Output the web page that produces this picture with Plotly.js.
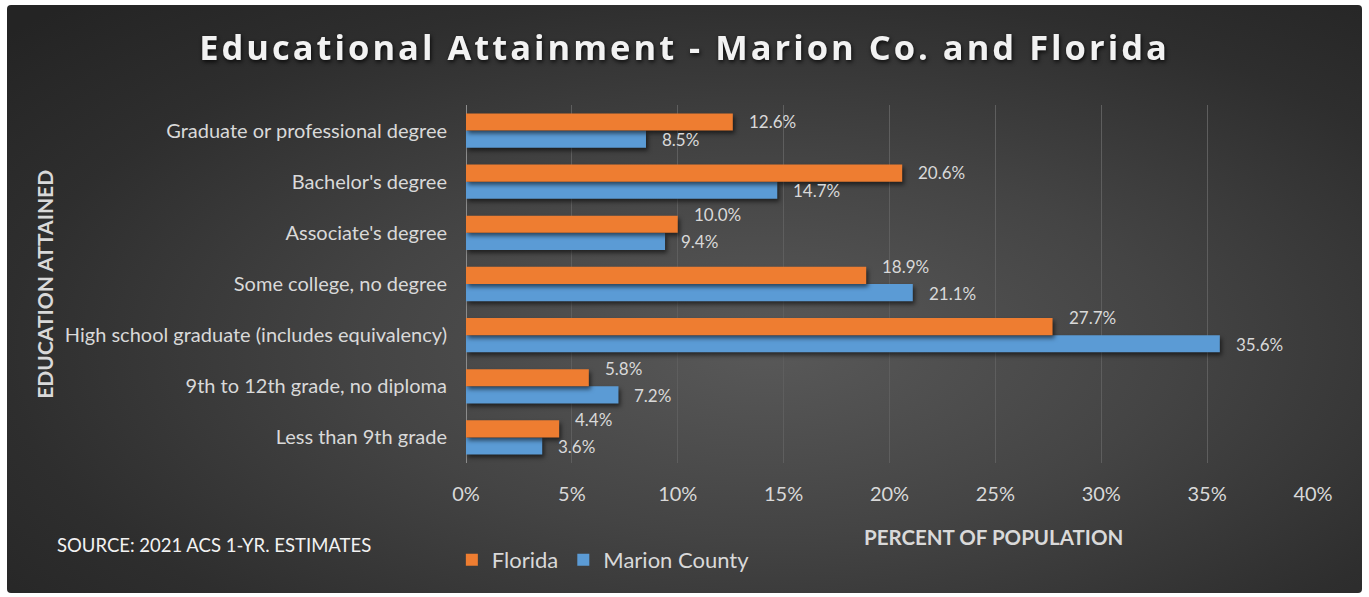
<!DOCTYPE html>
<html>
<head>
<meta charset="utf-8">
<script src="https://cdn.plot.ly/plotly-3.0.1.min.js"></script>
<style>
  html, body { margin: 0; padding: 0; background: #ffffff; }
  #frame {
    position: absolute; left: 7px; top: 5px; width: 1355px; height: 588px;
    border-radius: 4px;
    background: radial-gradient(ellipse 75% 80% at 56% 58%, #595959 0%, #444444 40%, #2e2e2e 75%, #242424 100%);
  }
  #chart { position: absolute; left: 0; top: 0; width: 1369px; height: 597px; }
  #chart .barlayer .point path { filter: drop-shadow(2px 3px 2px rgba(0,0,0,0.55)); }
  #chart .gtitle { letter-spacing: 3px; filter: drop-shadow(1px 2px 2px rgba(0,0,0,0.8)); }
</style>
</head>
<body>
<div id="frame"></div>
<div id="chart"></div>
<script>
// categories bottom-to-top, as Plotly draws a category y axis
const categories = [
  'Less than 9th grade',
  '9th to 12th grade, no diploma',
  'High school graduate (includes equivalency)',
  'Some college, no degree',
  "Associate's degree",
  "Bachelor's degree",
  'Graduate or professional degree'
];
const florida = [4.4, 5.8, 27.7, 18.9, 10.0, 20.6, 12.6];
const marion = [3.6, 7.2, 35.6, 21.1, 9.4, 14.7, 8.5];
const xTicks = [0, 5, 10, 15, 20, 25, 30, 35, 40];
const xTickLabels = ['0%', '5%', '10%', '15%', '20%', '25%', '30%', '35%', '40%'];

const fontFamily = 'Lato, "Open Sans", sans-serif';
const textColor = '#d9d9d9';

const traces = [
  {
    type: 'bar', orientation: 'h',
    name: 'Marion County',
    y: categories, x: marion,
    marker: { color: '#5b9bd5' },
    hoverinfo: 'x+name'
  },
  {
    type: 'bar', orientation: 'h',
    name: 'Florida',
    y: categories, x: florida,
    marker: { color: '#ee7d31' },
    hoverinfo: 'x+name'
  }
];

// value labels: Florida label is lifted when the Marion label runs under it
const valueLabels = [];
categories.forEach((cat, i) => {
  const lift = marion[i] > florida[i] - 3 ? 9 : 0;
  valueLabels.push({
    text: florida[i].toFixed(1) + '%', x: florida[i], y: cat,
    xref: 'x', yref: 'y', xanchor: 'left', yanchor: 'middle',
    xshift: 14, yshift: 9 + lift, showarrow: false,
    font: { family: fontFamily, size: 17, color: textColor }
  });
  valueLabels.push({
    text: marion[i].toFixed(1) + '%', x: marion[i], y: cat,
    xref: 'x', yref: 'y', xanchor: 'left', yanchor: 'middle',
    xshift: 14, yshift: -9, showarrow: false,
    font: { family: fontFamily, size: 17, color: textColor }
  });
});

const layout = {
  width: 1369, height: 597,
  paper_bgcolor: 'rgba(0,0,0,0)',
  plot_bgcolor: 'rgba(0,0,0,0)',
  font: { family: fontFamily, color: textColor },
  title: {
    text: '<b>Educational Attainment - Marion Co. and Florida</b>',
    x: 0.5, xanchor: 'center',
    y: 0.92, yanchor: 'middle',
    font: { family: '"Open Sans", sans-serif', size: 34.5, color: '#f2f2f2' }
  },
  barmode: 'group',
  bargap: 0.33,
  bargroupgap: 0,
  margin: { l: 466, r: 56, t: 105, b: 134 },
  xaxis: {
    range: [0, 40],
    tickvals: xTicks,
    ticktext: xTickLabels,
    showgrid: true,
    gridcolor: '#5e5e5e',
    gridwidth: 1,
    zeroline: false,
    showline: false,
    ticks: '',
    ticklabelstandoff: 17,
    tickfont: { family: fontFamily, size: 20, color: textColor },
    fixedrange: true
  },
  yaxis: {
    type: 'category',
    showgrid: false,
    zeroline: false,
    showline: false,
    ticks: '',
    ticklabelstandoff: 18,
    tickfont: { family: fontFamily, size: 20, color: textColor },
    fixedrange: true
  },
  shapes: [
    { type: 'line', xref: 'x', yref: 'paper', x0: 0, x1: 0, y0: 0, y1: 1,
      line: { color: '#8c8c8c', width: 2 }, layer: 'below' }
  ],
  legend: {
    orientation: 'h',
    traceorder: 'reversed',
    x: -0.0167, xanchor: 'left',
    y: -0.212, yanchor: 'top',
    font: { family: fontFamily, size: 22, color: textColor },
    itemwidth: 30,
    bgcolor: 'rgba(0,0,0,0)'
  },
  annotations: [
    {
      text: '<b>PERCENT OF POPULATION</b>',
      xref: 'paper', yref: 'paper', x: 0.623, y: -0.207,
      xanchor: 'center', yanchor: 'middle', showarrow: false,
      font: { family: fontFamily, size: 20.5, color: textColor }
    },
    {
      text: '<b>EDUCATION ATTAINED</b>',
      xref: 'paper', yref: 'paper', x: -0.497, y: 0.498,
      xanchor: 'center', yanchor: 'middle', showarrow: false, textangle: -90,
      font: { family: fontFamily, size: 21, color: textColor }
    },
    {
      text: 'SOURCE: 2021 ACS 1-YR. ESTIMATES',
      xref: 'paper', yref: 'paper', x: -0.2975, y: -0.229,
      xanchor: 'center', yanchor: 'middle', showarrow: false,
      font: { family: fontFamily, size: 18.5, color: '#f2f2f2' }
    }
  ].concat(valueLabels),
  showlegend: true
};

Plotly.newPlot('chart', traces, layout, { displayModeBar: false });
</script>
</body>
</html>
